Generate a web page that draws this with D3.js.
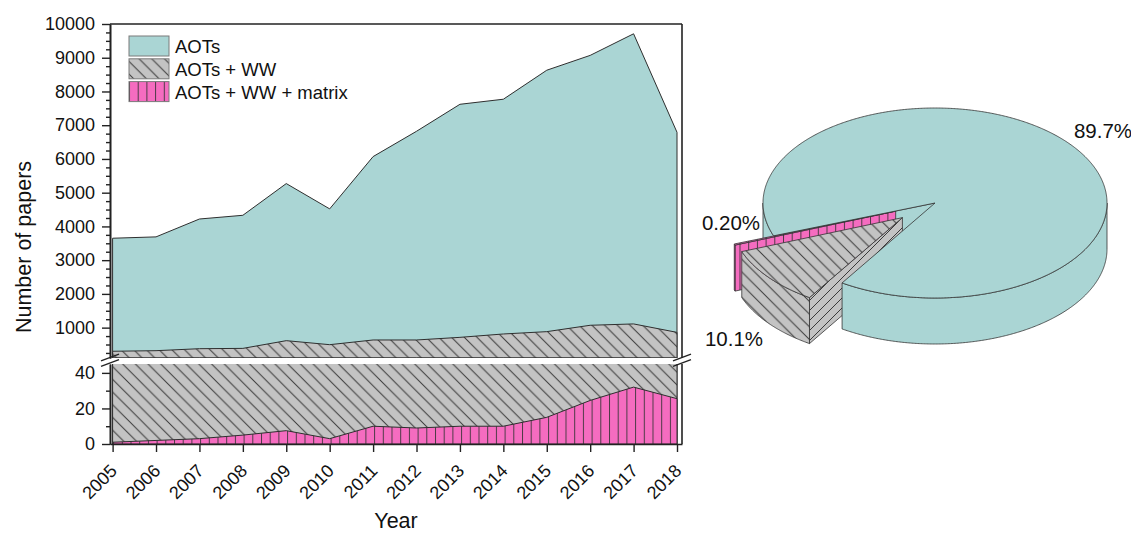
<!DOCTYPE html>
<html>
<head>
<meta charset="utf-8">
<script src="https://cdn.jsdelivr.net/npm/d3@7/dist/d3.min.js"></script>
<style>
html,body{margin:0;padding:0;background:#fff;}
svg{display:block;}
text{font-family:"Liberation Sans",Arial,Helvetica,sans-serif;fill:#111;}
</style>
</head>
<body>
<svg id="chart" width="1131" height="535"></svg>
<script>
// ---------------- data ----------------
const years = [2005,2006,2007,2008,2009,2010,2011,2012,2013,2014,2015,2016,2017,2018];
const aots = [3650,3690,4220,4330,5270,4520,6070,6820,7620,7770,8630,9070,9710,6790];
const aotsWW = [300,317,376,385,614,495,634,634,712,812,881,1070,1110,860];
const aotsWWMatrix = [1,2,3,5,7.5,3,10,9,10,10,15,24.5,32,25.5];
const seriesNames = ["AOTs","AOTs + WW","AOTs + WW + matrix"];
const upperTicks = [1000,2000,3000,4000,5000,6000,7000,8000,9000,10000];
const lowerTicks = [0,20,40];
const pieNames = ["AOTs + WW","AOTs + WW + matrix","AOTs"];
const pieShares = [10.1,0.2,89.7];
const pieLabels = ["10.1%","0.20%","89.7%"];
const xTitle = "Year";
const yTitle = "Number of papers";

// ---------------- styles ----------------
const TEAL="#aad5d4", GRAY="#c3c3c3", PINK="#f56cc0", HATCH="#3a3a3a", OUT="#2e2e2e", AX="#222";

const svg = d3.select("#chart");
const defs = svg.append("defs");

function diagPattern(id, s, dir){
  const p = defs.append("pattern").attr("id",id).attr("patternUnits","userSpaceOnUse")
    .attr("width",s).attr("height",s);
  p.append("rect").attr("width",s).attr("height",s).attr("fill",GRAY);
  const d = dir==="back"
    ? `M0,0L${s},${s}M-2,${s-2}L2,${s+2}M${s-2},-2L${s+2},2`
    : `M0,${s}L${s},0M-2,2L2,-2M${s-2},${s+2}L${s+2},${s-2}`;
  p.append("path").attr("d",d).attr("stroke",HATCH).attr("stroke-width",1).attr("fill","none");
}
diagPattern("hatchB",12.7,"back");
diagPattern("hatchF",10,"fwd");
(function(){
  const s=8.7;
  const p = defs.append("pattern").attr("id","vlines").attr("patternUnits","userSpaceOnUse")
    .attr("width",s).attr("height",10);
  p.append("rect").attr("width",s).attr("height",10).attr("fill",PINK);
  p.append("line").attr("x1",0.5).attr("x2",0.5).attr("y1",0).attr("y2",10)
    .attr("stroke","#4d3a46").attr("stroke-width",1);
})();
const seriesFill = [TEAL,"url(#hatchB)","url(#vlines)"];
const seriesData = [aots,aotsWW,aotsWWMatrix];

// ---------------- scales ----------------
const x = d3.scaleLinear().domain([2004.94,2018.115]).range([110,682]);
const yU = d3.scaleLinear().domain([100,10000]).range([358,24]);
const yL = d3.scaleLinear().domain([0,45]).range([444,364]);

// clips
[["clipU",yU],["clipL",yL]].forEach(([id,y])=>{
  defs.append("clipPath").attr("id",id).append("rect")
    .attr("x",x.range()[0]).attr("y",y.range()[1])
    .attr("width",x.range()[1]-x.range()[0]).attr("height",y.range()[0]-y.range()[1]);
});

function drawPanel(y, clipId){
  const g = svg.append("g").attr("clip-path",`url(#${clipId})`);
  const base = y.range()[0];
  seriesData.forEach((vals,si)=>{
    const area = d3.area().x((d,i)=>x(years[i])).y0(base).y1(d=>y(d));
    g.append("path").attr("d",area(vals)).attr("fill",seriesFill[si])
      .attr("stroke",OUT).attr("stroke-width",1).attr("stroke-linejoin","round");
  });
}
drawPanel(yU,"clipU");
drawPanel(yL,"clipL");

// ---------------- axes ----------------
function styleAxis(g){
  g.selectAll("path.domain").attr("stroke",AX).attr("stroke-width",1.6);
  g.selectAll(".tick line").attr("stroke",AX).attr("stroke-width",1.4);
  g.selectAll(".tick text").attr("font-size",18).attr("fill","#111")
    .attr("font-family",'"Liberation Sans",Arial,sans-serif');
  g.attr("font-family",null).attr("font-size",null);
}
const x0 = x.range()[0], x1 = x.range()[1];
// minor ticks
const upperMinor = d3.range(250,10000,250).filter(v=>v%1000!==0 && v>=yU.domain()[0]);
const lowerMinor = [10,30];
svg.append("g").attr("transform",`translate(${x0},0)`)
  .call(d3.axisLeft(yU).tickValues(upperMinor).tickSize(4).tickSizeOuter(0).tickFormat(""))
  .call(styleAxis);
svg.append("g").attr("transform",`translate(${x0},0)`)
  .call(d3.axisLeft(yL).tickValues(lowerMinor).tickSize(4).tickSizeOuter(0).tickFormat(""))
  .call(styleAxis);
svg.append("g").attr("transform",`translate(${x0},0)`)
  .call(d3.axisLeft(yU).tickValues(upperTicks).tickSize(8).tickPadding(7).tickSizeOuter(0).tickFormat(d3.format("d")))
  .call(styleAxis);
svg.append("g").attr("transform",`translate(${x0},0)`)
  .call(d3.axisLeft(yL).tickValues(lowerTicks).tickSize(8).tickPadding(7).tickSizeOuter(0).tickFormat(d3.format("d")))
  .call(styleAxis);
const xAxisG = svg.append("g").attr("transform",`translate(0,${yL.range()[0]})`)
  .call(d3.axisBottom(x).tickValues(years).tickSize(8).tickSizeOuter(0).tickFormat(d3.format("d")))
  .call(styleAxis);
xAxisG.selectAll(".tick text").attr("x",null).attr("y",null).attr("dy",null)
  .attr("text-anchor","end").attr("transform","translate(5,28) rotate(-45)");

// frame (top + right)
svg.append("line").attr("x1",x0).attr("x2",x1).attr("y1",yU.range()[1]).attr("y2",yU.range()[1])
  .attr("stroke",AX).attr("stroke-width",1.6);
[[yU.range()[1],yU.range()[0]],[yL.range()[1],yL.range()[0]]].forEach(([a,b])=>{
  svg.append("line").attr("x1",x1).attr("x2",x1).attr("y1",a).attr("y2",b)
    .attr("stroke",AX).attr("stroke-width",1.6);
});
// break marks
[x0,x1].forEach(xx=>{
  [yU.range()[0]-0.5, yL.range()[1]-1].forEach(yy=>{
    svg.append("line").attr("x1",xx-9).attr("y1",yy+3.3).attr("x2",xx+9).attr("y2",yy-3.3)
      .attr("stroke",AX).attr("stroke-width",1.4);
  });
});

// axis titles
svg.append("text").attr("x",(x0+x1)/2).attr("y",528).attr("text-anchor","middle")
  .attr("font-size",21.5).text(xTitle);
svg.append("text").attr("transform","translate(31,247) rotate(-90)").attr("text-anchor","middle")
  .attr("font-size",21.5).text(yTitle);

// legend
const leg = svg.append("g").attr("transform","translate(129,36)");
seriesNames.forEach((nm,i)=>{
  const gy = i*22.8;
  leg.append("rect").attr("x",0).attr("y",gy).attr("width",40).attr("height",20)
    .attr("fill",seriesFill[i]).attr("stroke","#7a7a7a").attr("stroke-width",1);
  leg.append("text").attr("x",46).attr("y",gy+17).attr("font-size",18.5).text(nm);
});

// ---------------- 3D pie ----------------
const PIE = {cx:935, cy:203, rx:172, ry:95, h:46, explode:42};
const a0 = 122.7*Math.PI/180;
const pieArcs = d3.pie().sort(null).value(d=>d)(pieShares);
const topFill = ["url(#hatchB)","url(#vlines)",TEAL];
const cutFill = ["url(#hatchF)","url(#vlines)",TEAL];
const wallFill = ["url(#hatchB)","url(#vlines)",TEAL];
const explodeBy = [1,1,0];
const elems = [];
pieArcs.forEach((a,i)=>{
  const t0 = a0+a.startAngle, t1 = a0+a.endAngle, tm=(t0+t1)/2;
  const d = PIE.explode*explodeBy[i];
  const ox = d*Math.cos(tm), oy = d*Math.sin(tm)*PIE.ry/PIE.rx;
  const P = (t,k,z)=>[PIE.cx+ox+k*PIE.rx*Math.cos(t), PIE.cy+oy+k*PIE.ry*Math.sin(t)+z];
  const arcPts = (ta,tb,z)=>{
    const n = Math.max(2,Math.ceil(Math.abs(tb-ta)/(Math.PI/360)));
    return d3.range(n+1).map(j=>P(ta+(tb-ta)*j/n,1,z));
  };
  elems.push({pts:[P(0,0,0),...arcPts(t0,t1,0)], fill:topFill[i], key:1000+i});
  [[t0,-1],[t1,1]].forEach(([t,s])=>{
    const vis = s<0 ? Math.cos(t)<0 : Math.cos(t)>0;
    if(!vis) return;
    elems.push({pts:[P(t,0,0),P(t,1,0),P(t,1,PIE.h),P(t,0,PIE.h)], fill:cutFill[i],
      key: oy+0.5*PIE.ry*Math.sin(t)});
  });
  for(let k=0;k<3;k++){
    const lo=Math.max(t0,2*Math.PI*k), hi=Math.min(t1,2*Math.PI*k+Math.PI);
    if(hi>lo){
      elems.push({pts:[...arcPts(lo,hi,0),...arcPts(hi,lo,PIE.h)], fill:wallFill[i],
        key: oy+PIE.ry*Math.sin((lo+hi)/2)});
    }
  }
});
elems.sort((p,q)=>p.key-q.key);
const pieG = svg.append("g");
const lineGen = d3.line();
elems.forEach(e=>{
  pieG.append("path").attr("d",lineGen(e.pts)+"Z").attr("fill",e.fill)
    .attr("stroke","#333").attr("stroke-width",0.8).attr("stroke-linejoin","round");
});
// pie labels
const pieLabelPos = [[734,346],[731,230],[1103,138]];
pieLabels.forEach((t,i)=>{
  svg.append("text").attr("x",pieLabelPos[i][0]).attr("y",pieLabelPos[i][1])
    .attr("text-anchor","middle").attr("font-size",20.5).text(t);
});
</script>
</body>
</html>
